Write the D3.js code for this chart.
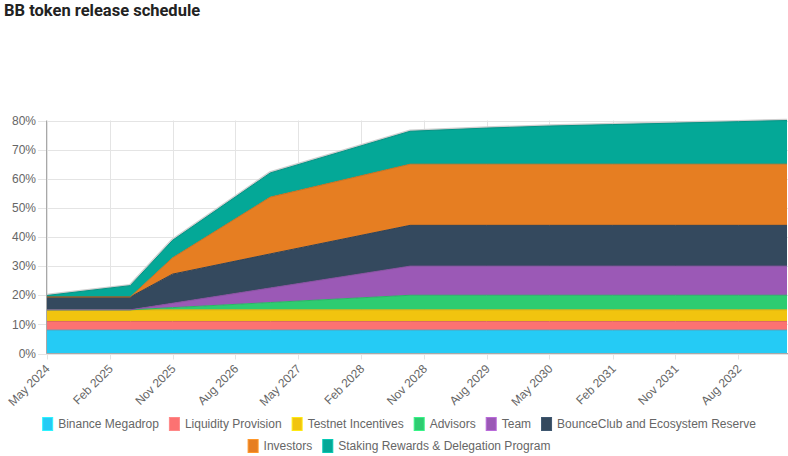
<!DOCTYPE html>
<html><head><meta charset="utf-8">
<script src="https://cdn.jsdelivr.net/npm/d3@7"></script>
<style>
body{margin:0;background:#fff;}
svg{display:block;font-family:"Liberation Sans",Arial,Helvetica,sans-serif;}
</style>
</head><body>
<svg id="chart" width="788" height="456"></svg>
<script>
// ---- data ----
const chartTitle = "BB token release schedule";
const dates = ["May 2024","May 2025","Nov 2025","Jan 2027","Sep 2028","Aug 2029","May 2030","Feb 2031","Nov 2031","Aug 2032","Mar 2033"];
const seriesNames = ["Binance Megadrop","Liquidity Provision","Testnet Incentives","Advisors","Team","BounceClub and Ecosystem Reserve","Investors","Staking Rewards & Delegation Program"];
const binanceMegadrop   = [8, 8, 8, 8, 8, 8, 8, 8, 8, 8, 8];
const liquidityProvision= [3, 3, 3, 3, 3, 3, 3, 3, 3, 3, 3];
const testnetIncentives = [4, 4, 4, 4, 4, 4, 4, 4, 4, 4, 4];
const advisors          = [0, 0, 0.75, 2.5, 5, 5, 5, 5, 5, 5, 5];
const team              = [0, 0, 1.5, 5, 10, 10, 10, 10, 10, 10, 10];
const bounceClub        = [4.4, 4.4, 10, 11.7, 14, 14, 14, 14, 14, 14, 14];
const investors         = [0, 0, 5.6, 19.5, 21, 21, 21, 21, 21, 21, 21];
const stakingRewards    = [0.5, 3.9, 6.0, 8.3, 11.3, 12.4, 13.1, 13.6, 14.1, 14.6, 15.0];
const xTickLabels = ["May 2024","Feb 2025","Nov 2025","Aug 2026","May 2027","Feb 2028","Nov 2028","Aug 2029","May 2030","Feb 2031","Nov 2031","Aug 2032"];
const yTickValues = [0,10,20,30,40,50,60,70,80];

// ---- styles ----
const colors = ["#25CBF5","#FC7272","#F1C40F","#2ECC71","#9B59B6","#34495E","#E67E22","#04A897"];
const W = 788, H = 456;
const margin = {left:46.5, right:1, top:120.5, bottom:102.5};

const seriesValues = [binanceMegadrop, liquidityProvision, testnetIncentives, advisors, team, bounceClub, investors, stakingRewards];
const parse = d3.timeParse("%b %Y");
const rows = dates.map((d,i) => {
  const r = {date: parse(d)};
  seriesNames.forEach((n,k) => r[n] = seriesValues[k][i]);
  return r;
});

const svg = d3.select("#chart");
const x = d3.scaleTime().domain([parse(dates[0]), parse(dates[dates.length-1])]).range([margin.left, W - margin.right]);
const y = d3.scaleLinear().domain([0,80]).range([H - margin.bottom, margin.top]);

// title
svg.append("text").attr("x",4).attr("y",16).attr("fill","#222")
  .style("font-family","Roboto, 'Open Sans', sans-serif").style("font-weight","700").style("font-size","16.5px")
  .text(chartTitle);

// grid
const grid = svg.append("g");
yTickValues.forEach(v => {
  grid.append("line").attr("x1",38).attr("x2",W).attr("y1",Math.round(y(v))+0.5).attr("y2",Math.round(y(v))+0.5)
    .attr("stroke","#e4e4e4");
});
xTickLabels.forEach(t => {
  const xx = Math.round(x(parse(t)))+0.5;
  grid.append("line").attr("x1",xx).attr("x2",xx).attr("y1",y(80)).attr("y2",y(0)+6).attr("stroke","#e4e4e4");
});

// stacked areas
const stack = d3.stack().keys(seriesNames);
const layers = stack(rows);
const area = d3.area().x(d => x(d.data.date)).y0(d => y(d[0])).y1(d => y(d[1]));
const topLine = d3.line().x(d => x(d.data.date)).y(d => y(d[1]));

// shadow above top series
svg.append("path").datum(layers[layers.length-1]).attr("d", topLine)
  .attr("fill","none").attr("stroke","#cfcfcf").attr("stroke-width",3.5);

const g = svg.append("g");
layers.forEach((L,i) => {
  g.append("path").datum(L).attr("d", area).attr("fill", colors[i]);
});
layers.forEach((L,i) => {
  g.append("path").datum(L).attr("d", topLine).attr("fill","none")
    .attr("stroke", d3.color(colors[i]).darker(0.35)).attr("stroke-width",1);
});

// axes lines
svg.append("line").attr("x1",margin.left).attr("x2",margin.left).attr("y1",y(80)).attr("y2",y(0)).attr("stroke","#a8a8a8");
svg.append("line").attr("x1",margin.left).attr("x2",W).attr("y1",y(0)).attr("y2",y(0)).attr("stroke","#a8a8a8");

// y labels
yTickValues.forEach(v => {
  svg.append("text").attr("x",36).attr("y",y(v)).attr("dy","0.35em").attr("text-anchor","end")
    .attr("fill","#666").style("font-size","12px").text(v + "%");
});
// x labels
xTickLabels.forEach(t => {
  const xx = x(parse(t));
  svg.append("text").attr("transform",`translate(${xx+1},${y(0)+13}) rotate(-45)`)
    .attr("text-anchor","end").attr("dy","0.35em").attr("fill","#666").style("font-size","12px").text(t);
});

// legend
const legend = svg.append("g");
const items = seriesNames.map((n,i) => {
  const t = legend.append("text").attr("fill","#666").style("font-size","12px").attr("dy","0.35em").text(n);
  return {name:n, color:colors[i], text:t, w: 10 + 6 + t.node().getComputedTextLength()};
});
const maxW = 760, gap = 10;
const lines = [[]]; let cur = 0;
items.forEach(it => {
  if (cur > 0 && cur + gap + it.w > maxW) { lines.push([]); cur = 0; }
  cur += (cur>0?gap:0) + it.w; lines[lines.length-1].push(it);
});
lines.forEach((ln,li) => {
  const tw = d3.sum(ln, d=>d.w) + gap*(ln.length-1);
  let xx = 399 - tw/2;
  const yy = 424 + li*22;
  ln.forEach(it => {
    legend.append("rect").attr("x",xx+0.5).attr("y",yy-6.5).attr("width",10).attr("height",13)
      .attr("fill",it.color).attr("stroke", d3.color(it.color).brighter(0.5)).attr("stroke-width",1);
    it.text.attr("x",xx+16).attr("y",yy);
    xx += it.w + gap;
  });
});
</script>
</body></html>
